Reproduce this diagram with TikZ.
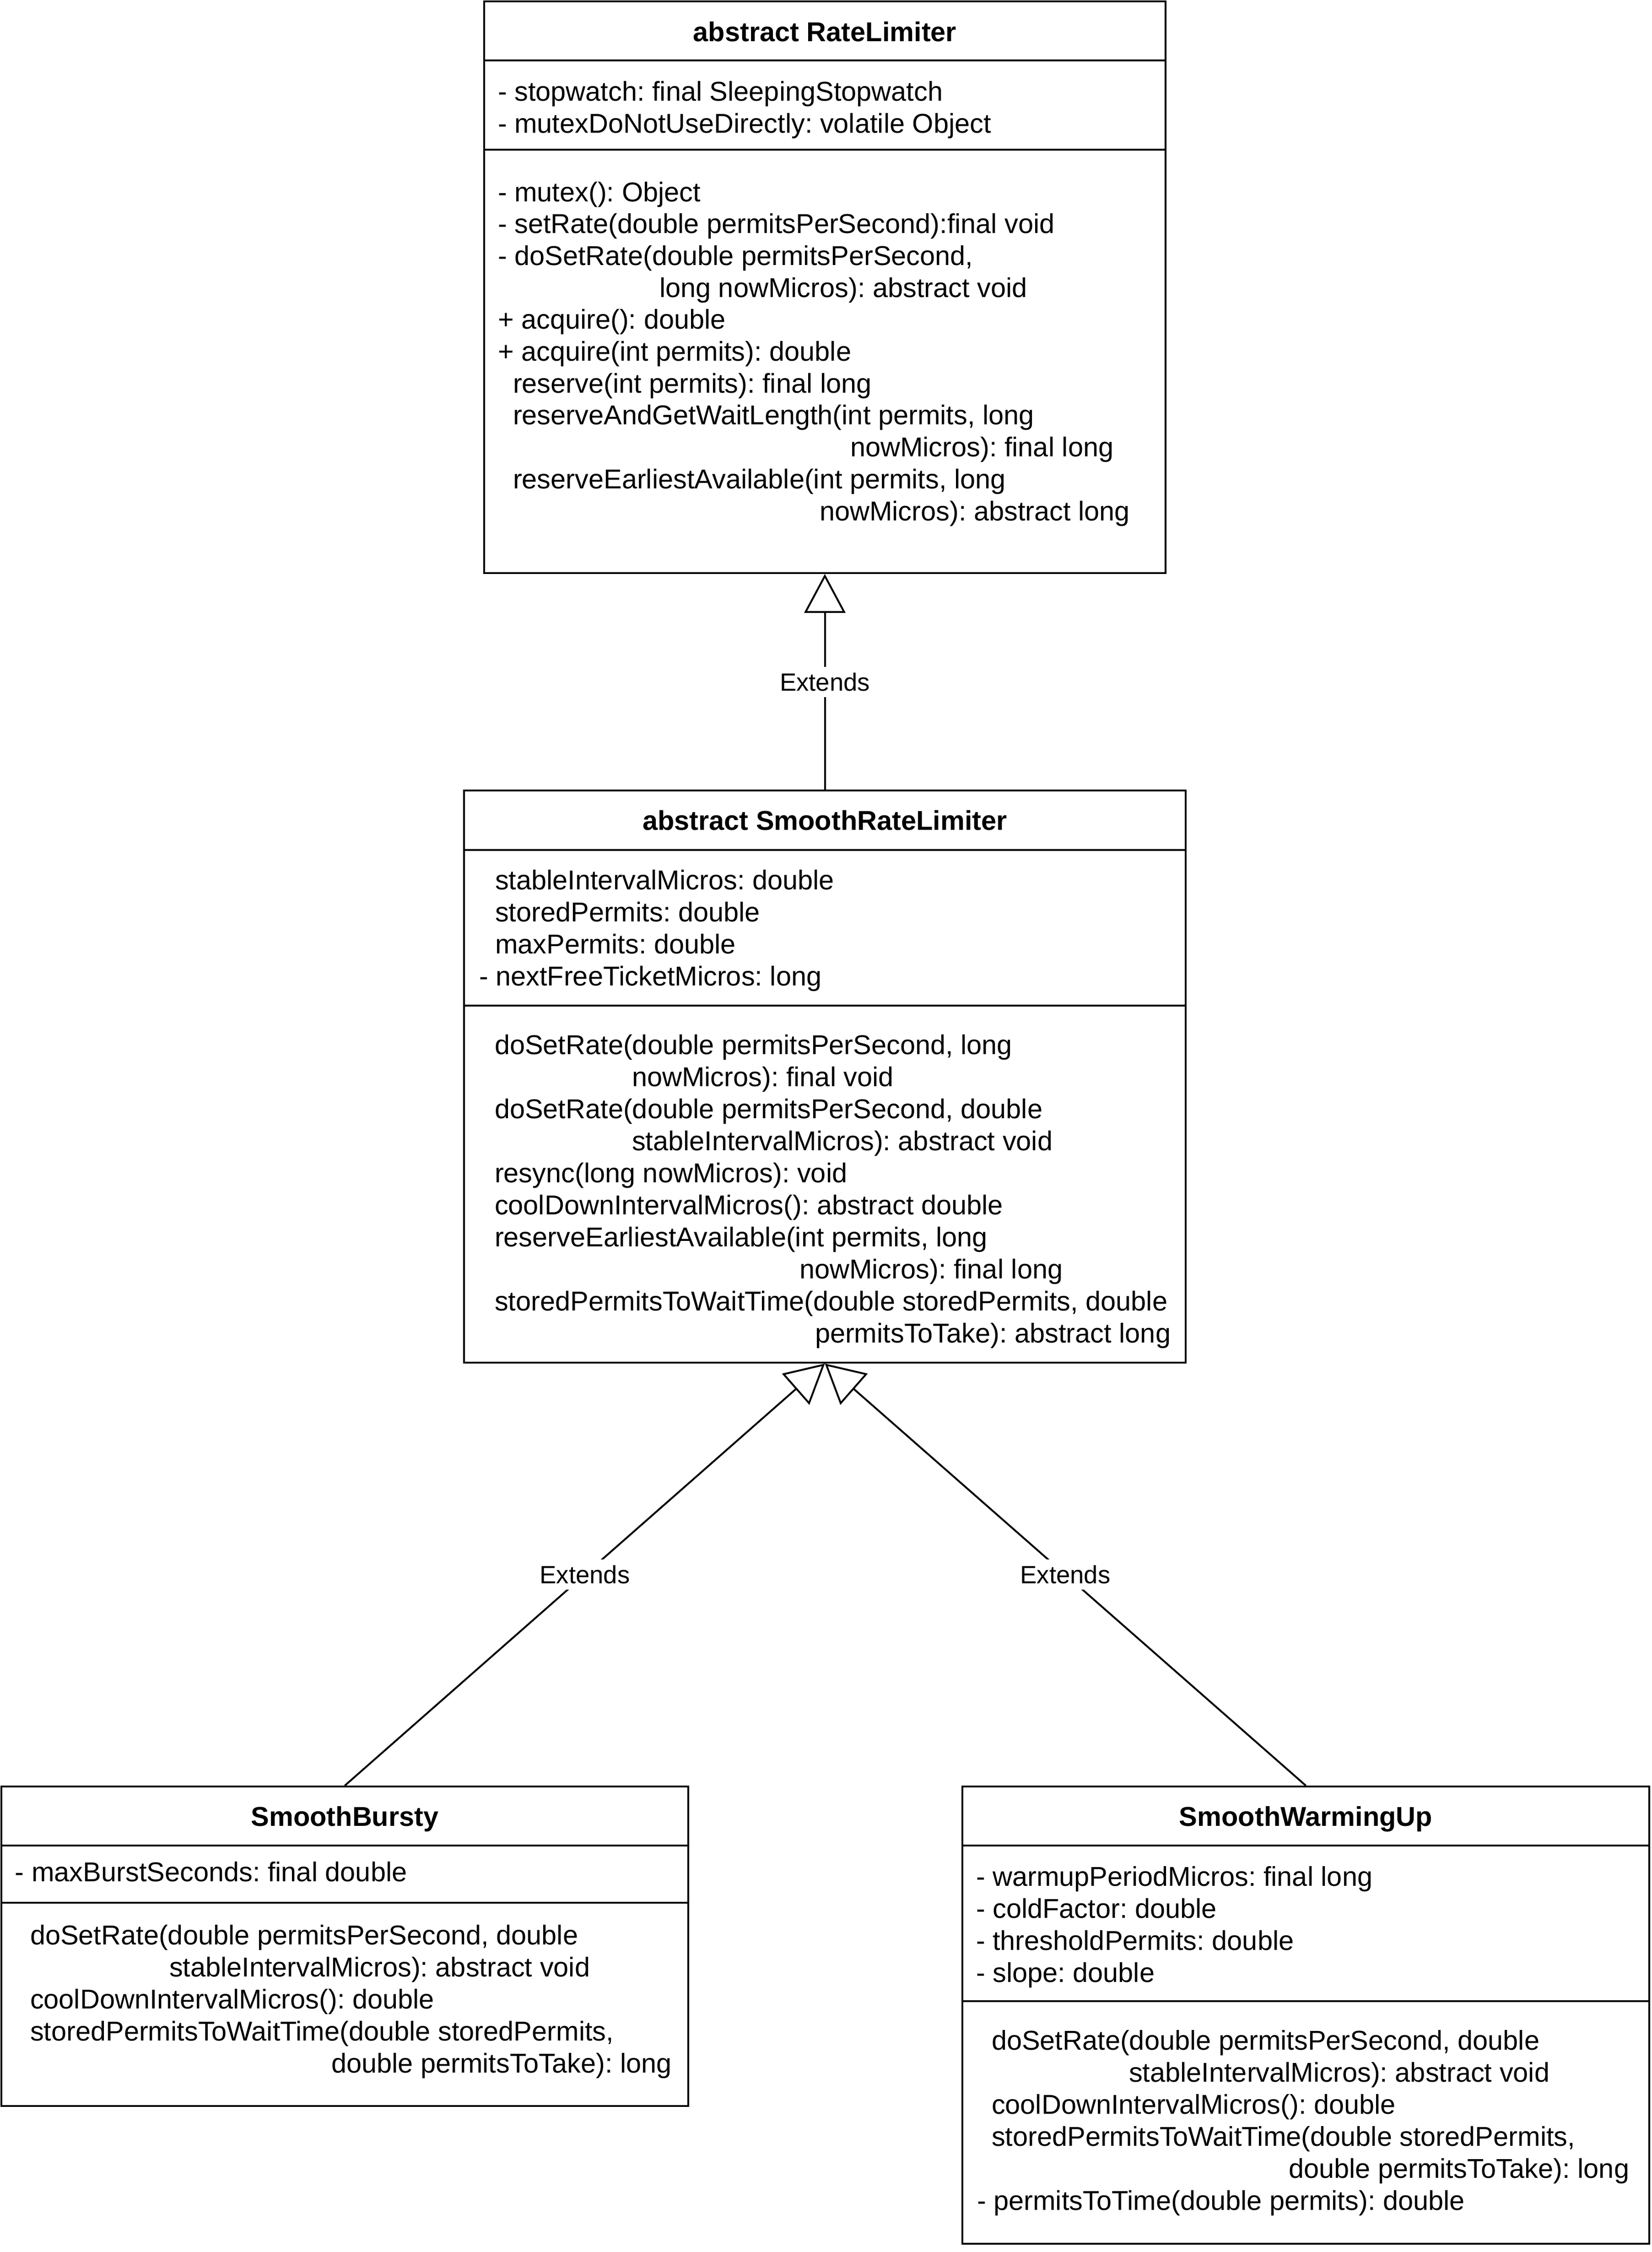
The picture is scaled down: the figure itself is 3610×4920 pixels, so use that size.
\documentclass[tikz,border=0pt]{standalone}
\usepackage{fontspec}
\setmainfont{Liberation Sans}
\usetikzlibrary{arrows.meta}
\frenchspacing
\newcommand{\mytl}[4]{\node[txt] (#1) at (#2,#3) {#4};}
\begin{document}
\begin{tikzpicture}[x=0.2pt,y=-0.2pt,
  cls/.style={draw=black,line width=0.8pt,fill=white,inner sep=0pt},
  sep/.style={draw=black,line width=0.8pt},
  txt/.style={anchor=base west,inner sep=0pt,font=\fontsize{11.9}{14}\selectfont},
  ttl/.style={anchor=base,inner sep=0pt,font=\bfseries\fontsize{11.9}{14}\selectfont},
  lbl/.style={fill=white,inner xsep=1pt,inner ysep=0pt,minimum height=13.2pt,font=\fontsize{10.9}{13}\selectfont},
  ext/.style={draw=black,line width=0.8pt,-{Triangle[open,length=17pt,width=18pt]}}]
\useasboundingbox (0,0) rectangle (3610,4920);

% ---------- boxes ----------
\node[cls,minimum width=297.8pt,minimum height=249.8pt] (b1) at (1802.5,627.5) {};
\node[cls,minimum width=315.4pt,minimum height=250pt] (b2) at (1802.5,2352) {};
\node[cls,minimum width=300.2pt,minimum height=139.6pt] (b3) at (753.5,4252) {};
\node[cls,minimum width=300.2pt,minimum height=199.8pt] (b4) at (2853.5,4402.5) {};

% ---------- separators ----------
\draw[sep] (b1.west |- 0,132) -- (b1.east |- 0,132);
\draw[sep] (b1.west |- 0,327) -- (b1.east |- 0,327);
\draw[sep] (b2.west |- 0,1857) -- (b2.east |- 0,1857);
\draw[sep] (b2.west |- 0,2197) -- (b2.east |- 0,2197);
\draw[sep] (b3.west |- 0,4032) -- (b3.east |- 0,4032);
\draw[sep] (b3.west |- 0,4157) -- (b3.east |- 0,4157);
\draw[sep] (b4.west |- 0,4032) -- (b4.east |- 0,4032);
\draw[sep] (b4.west |- 0,4372) -- (b4.east |- 0,4372);

% ---------- RateLimiter ----------
\node[ttl] (t1) at (1802.5,90) {abstract RateLimiter};
\mytl{a11}{1087}{220}{- stopwatch: final SleepingStopwatch}
\mytl{a12}{1087}{290}{- mutexDoNotUseDirectly: volatile Object}
\mytl{m10}{1087}{440}{- mutex(): Object}
\mytl{m11}{1087}{509.7}{- setRate(double permitsPerSecond):final void}
\mytl{m12}{1087}{579.4}{- doSetRate(double permitsPerSecond,}
\mytl{m13}{1440}{649.1}{long nowMicros): abstract void}
\mytl{m14}{1087}{718.8}{+ acquire(): double}
\mytl{m15}{1087}{788.5}{+ acquire(int permits): double}
\mytl{m16}{1120}{858.2}{reserve(int permits): final long}
\mytl{m17}{1120}{927.9}{reserveAndGetWaitLength(int permits, long}
\mytl{m18}{1857}{997.6}{nowMicros): final long}
\mytl{m19}{1120}{1067.3}{reserveEarliestAvailable(int permits, long}
\mytl{m1a}{1790}{1137}{nowMicros): abstract long}

% ---------- SmoothRateLimiter ----------
\node[ttl] (t2) at (1802.5,1813.5) {abstract SmoothRateLimiter};
\mytl{a21}{1081}{1943}{stableIntervalMicros: double}
\mytl{a22}{1081}{2013}{storedPermits: double}
\mytl{a23}{1081}{2083}{maxPermits: double}
\mytl{a24}{1046}{2153}{- nextFreeTicketMicros: long}
\mytl{m20}{1080}{2303}{doSetRate(double permitsPerSecond, long}
\mytl{m21}{1380}{2373}{nowMicros): final void}
\mytl{m22}{1080}{2443}{doSetRate(double permitsPerSecond, double}
\mytl{m23}{1380}{2513}{stableIntervalMicros): abstract void}
\mytl{m24}{1080}{2583}{resync(long nowMicros): void}
\mytl{m25}{1080}{2653}{coolDownIntervalMicros(): abstract double}
\mytl{m26}{1080}{2723}{reserveEarliestAvailable(int permits, long}
\mytl{m27}{1746}{2793}{nowMicros): final long}
\mytl{m28}{1080}{2863}{storedPermitsToWaitTime(double storedPermits, double}
\mytl{m29}{1780}{2933}{permitsToTake): abstract long}

% ---------- SmoothBursty ----------
\node[ttl] (t3) at (753.5,3989) {SmoothBursty};
\mytl{a31}{32}{4110}{- maxBurstSeconds: final double}
\mytl{m30}{65}{4248}{doSetRate(double permitsPerSecond, double}
\mytl{m31}{369}{4318}{stableIntervalMicros): abstract void}
\mytl{m32}{65}{4388}{coolDownIntervalMicros(): double}
\mytl{m33}{65}{4458}{storedPermitsToWaitTime(double storedPermits,}
\mytl{m34}{723}{4528}{double permitsToTake): long}

% ---------- SmoothWarmingUp ----------
\node[ttl] (t4) at (2853.5,3989) {SmoothWarmingUp};
\mytl{a41}{2132}{4120}{- warmupPeriodMicros: final long}
\mytl{a42}{2132}{4190}{- coldFactor: double}
\mytl{a43}{2132}{4260}{- thresholdPermits: double}
\mytl{a44}{2132}{4330}{- slope: double}
\mytl{m40}{2166}{4478}{doSetRate(double permitsPerSecond, double}
\mytl{m41}{2466}{4548}{stableIntervalMicros): abstract void}
\mytl{m42}{2166}{4618}{coolDownIntervalMicros(): double}
\mytl{m43}{2166}{4688}{storedPermitsToWaitTime(double storedPermits,}
\mytl{m44}{2815}{4758}{double permitsToTake): long}
\mytl{m45}{2134}{4828}{- permitsToTime(double permits): double}

% ---------- connectors ----------
\draw[ext] (b2.north) -- node[lbl] (e1) {Extends} (b1.south);
\draw[ext] (b3.north) -- node[lbl] (e2) {Extends} (b2.south);
\draw[ext] (b4.north) -- node[lbl] (e3) {Extends} (b2.south);
\end{tikzpicture}
\end{document}
